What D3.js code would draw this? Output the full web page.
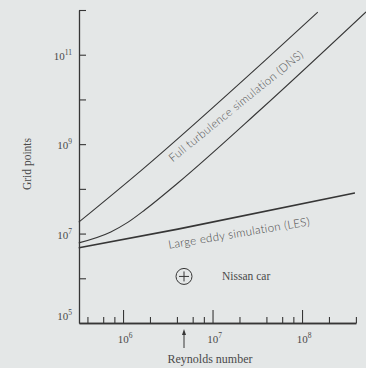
<!DOCTYPE html>
<html><head><meta charset="utf-8">
<script src="https://cdn.jsdelivr.net/npm/d3@7"></script>
<style>
html,body{margin:0;padding:0;background:#e4e7e7;}
svg{display:block;}
</style></head>
<body>
<script>
// ---- data ----
const dnsUpperRe   = [3.2e5, 1.6e6, 3.9e7, 1.5e8];
const dnsUpperGrid = [1.8e7, 2.6e8, 7.6e10, 9.0e11];
const dnsLowerRe   = [3.2e5, 7.3e5, 1.14e6, 1.76e6, 4.1e6, 3.4e7, 5.2e8];
const dnsLowerGrid = [6.2e6, 1.09e7, 1.8e7, 3.4e7, 1.35e8, 5.8e9, 9.1e11];
const lesRe   = [3.2e5, 4.1e6, 3.9e8];
const lesGrid = [4.8e6, 1.26e7, 8.1e7];
const nissanRe = 4.8e6, nissanGrid = 1.1e6;
const yTickValues = [1e6,1e7,1e8,1e9,1e10,1e11,1e12];
const yLabelExps = [5,7,9,11];
const xMajorTicks = [1e6,1e7,1e8];
const xMinorTicks = [4e5,6e5,8e5,2e6,4e6,6e6,8e6,2e7,4e7,6e7,8e7,2e8,4e8];
const xLabelExps = [6,7,8];
const labels = {
  dns: "Full turbulence simulation (DNS)",
  les: "Large eddy simulation (LES)",
  nissan: "Nissan car",
  xTitle: "Reynolds number",
  yTitle: "Grid points"
};

const W = 366, H = 368;
const svg = d3.select("body").append("svg").attr("width", W).attr("height", H);
svg.append("rect").attr("width", W).attr("height", H).attr("fill", "#e4e7e7");

const x = d3.scaleLog().domain([3.22e5, 4e8]).range([79, 355.9]);
const y = d3.scaleLog().domain([1e5, 1e12]).range([323, 10]);
const ink = "#363636";
const txt = "#4a4a4a";
const serif = "'Liberation Serif', 'DejaVu Serif', serif";
const sans = "Lato, 'Open Sans', sans-serif";

// y axis
const gy = svg.append("g").attr("transform", "translate(79,0)")
  .call(d3.axisRight(y).tickValues(yTickValues).tickSize(7).tickSizeOuter(0).tickFormat(""));

// x axis (ticks pointing up)
const gxMinor = svg.append("g").attr("transform", "translate(0,323)")
  .call(d3.axisTop(x).tickValues(xMinorTicks).tickSize(6).tickSizeOuter(0).tickFormat(""));
const gxMajor = svg.append("g").attr("transform", "translate(0,323)")
  .call(d3.axisTop(x).tickValues(xMajorTicks).tickSize(13).tickSizeOuter(0).tickFormat(""));
svg.selectAll("g path, g line").attr("stroke", ink).attr("stroke-width", 1.1);
gy.select(".domain").attr("stroke-width", 1.3);
gxMinor.select(".domain").attr("stroke-width", 1.3);
gxMajor.select(".domain").attr("stroke-width", 1.3);

// y tick labels
yLabelExps.forEach(e => {
  const yy = e === 5 ? y(Math.pow(10, e)) - 3 : y(Math.pow(10, e)) + 5;
  const t = svg.append("text").attr("x", 72).attr("y", yy).attr("text-anchor", "end")
    .attr("font-family", serif).attr("font-size", 11).attr("fill", txt);
  t.append("tspan").text("10");
  t.append("tspan").attr("dy", -5).attr("font-size", 7.5).text(String(e));
});
// x tick labels
xLabelExps.forEach(e => {
  const t = svg.append("text").attr("x", x(Math.pow(10, e)) + 2).attr("y", 343).attr("text-anchor", "middle")
    .attr("font-family", serif).attr("font-size", 11).attr("fill", txt);
  t.append("tspan").text("10");
  t.append("tspan").attr("dy", -5).attr("font-size", 7.5).text(String(e));
});

// axis titles
svg.append("text").attr("x", 210).attr("y", 363).attr("text-anchor", "middle")
  .attr("font-family", serif).attr("font-size", 12).attr("fill", txt).text(labels.xTitle);
svg.append("text").attr("transform", "translate(31,164) rotate(-90)").attr("text-anchor", "middle")
  .attr("font-family", serif).attr("font-size", 11.5).attr("fill", txt).text(labels.yTitle);

// curves
const line = d3.line().x(d => x(d[0])).y(d => y(d[1])).curve(d3.curveMonotoneX);
const series = [
  {re: dnsUpperRe, g: dnsUpperGrid, w: 1.1},
  {re: dnsLowerRe, g: dnsLowerGrid, w: 1.1},
  {re: lesRe, g: lesGrid, w: 1.7}
];
series.forEach(s => {
  svg.append("path").datum(s.re.map((r, i) => [r, s.g[i]]))
    .attr("d", line).attr("fill", "none").attr("stroke", ink).attr("stroke-width", s.w);
});

// curve labels
svg.append("text").attr("transform", "translate(236,106) rotate(-39)")
  .attr("text-anchor", "middle").attr("dy", "0.35em").attr("letter-spacing", 0.3)
  .attr("font-family", sans).attr("font-weight", 300).attr("font-size", 11.5).attr("fill", "#555").text(labels.dns);
svg.append("text").attr("transform", "translate(239,233) rotate(-9.5)")
  .attr("text-anchor", "middle").attr("dy", "0.35em").attr("letter-spacing", 0.3)
  .attr("font-family", sans).attr("font-weight", 300).attr("font-size", 11.5).attr("fill", "#444").text(labels.les);

// Nissan car marker
const nx = x(nissanRe), ny = y(nissanGrid);
svg.append("circle").attr("cx", nx).attr("cy", ny).attr("r", 8)
  .attr("fill", "none").attr("stroke", ink).attr("stroke-width", 1);
svg.append("line").attr("x1", nx - 5).attr("x2", nx + 5).attr("y1", ny).attr("y2", ny).attr("stroke", ink);
svg.append("line").attr("x1", nx).attr("x2", nx).attr("y1", ny - 5).attr("y2", ny + 5).attr("stroke", ink);
svg.append("text").attr("x", 222).attr("y", 280)
  .attr("font-family", serif).attr("font-size", 11.5).attr("fill", txt).text(labels.nissan);

// arrow under x axis at the Nissan car Reynolds number
const ax = x(nissanRe);
svg.append("line").attr("x1", ax).attr("x2", ax).attr("y1", 348).attr("y2", 333)
  .attr("stroke", ink).attr("stroke-width", 1);
svg.append("path").attr("d", `M${ax},329 L${ax-2},335 L${ax+2},335 Z`).attr("fill", ink);
</script>
</body></html>
